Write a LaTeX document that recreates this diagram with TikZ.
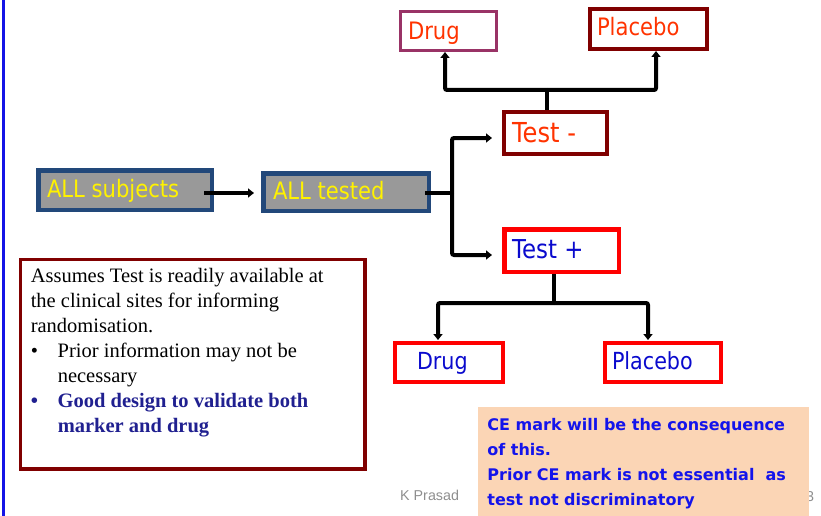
\documentclass[tikz,border=0pt]{standalone}
\usepackage{fontspec}
\setmainfont{Liberation Serif}
\newfontfamily\boxfont[FakeStretch=0.88]{DejaVu Sans}
\newfontfamily\cefont{DejaVu Sans}
\newfontfamily\slidefont{Liberation Sans}
\usetikzlibrary{arrows.meta,calc}

\definecolor{leftblue}{RGB}{20,20,230}
\definecolor{plum}{HTML}{993366}
\definecolor{maroon}{HTML}{800000}
\definecolor{orangered}{HTML}{FF3300}
\definecolor{slateblue}{RGB}{34,72,122}
\definecolor{midgrey}{HTML}{999999}
\definecolor{brightred}{HTML}{FF0000}
\definecolor{deepblue}{RGB}{10,10,205}
\definecolor{navytext}{RGB}{32,32,144}
\definecolor{peach}{HTML}{FBD5B5}
\definecolor{ceblue}{RGB}{20,20,235}
\definecolor{footgrey}{HTML}{8E8E8E}

\tikzset{
  cell/.style={draw, inner ysep=0pt, text depth=0pt, anchor=center, font=\boxfont},
  negbox/.style={cell, draw=maroon, text=orangered},
  posbox/.style={cell, draw=brightred, text=deepblue},
  allbox/.style={cell, draw=slateblue, fill=midgrey, text=yellow, line width=4.5pt},
  conn/.style={line width=4pt, rounded corners=2pt},
  tip/.style={-{Triangle[length=6pt,width=9pt]}},
  foot/.style={inner sep=0pt, anchor=base west, text=footgrey,
    font=\slidefont\fontsize{14.3pt}{17pt}\selectfont}
}

\begin{document}
\begin{tikzpicture}[x=1pt,y=-1pt]
\useasboundingbox (0,0) rectangle (821,516);

% left rule of the slide
\draw[line width=3pt, leftblue] (3.5,0) -- (3.5,516);

% boxes of the design
\node[cell, draw=plum, text=orangered, line width=3pt, minimum width=96pt, minimum height=39pt,
      inner xsep=7.5pt, text height=16.6pt, font=\boxfont\fontsize{24pt}{28pt}\selectfont]
      (dT) at (448.5,31) {\makebox[81pt][l]{Drug}};
\node[negbox, line width=4pt, minimum width=117pt, minimum height=40pt,
      inner xsep=7pt, text height=14pt, font=\boxfont\fontsize{24pt}{28pt}\selectfont]
      (pT) at (648.5,29) {\makebox[103pt][l]{Placebo}};
\node[negbox, line width=4pt, minimum width=103pt, minimum height=42pt,
      inner xsep=8pt, text height=19.4pt, font=\boxfont\fontsize{27.5pt}{32pt}\selectfont]
      (tm) at (555.5,133) {\makebox[87pt][l]{Test -}};
\node[allbox, minimum width=173.5pt, minimum height=39.5pt,
      inner xsep=8.75pt, text height=14.6pt, font=\boxfont\fontsize{24pt}{28pt}\selectfont]
      (as) at (125,190) {\makebox[156pt][l]{ALL subjects}};
\node[allbox, minimum width=165.5pt, minimum height=37.5pt,
      inner xsep=9.75pt, text height=14.6pt, font=\boxfont\fontsize{24pt}{28pt}\selectfont]
      (at) at (346,192) {\makebox[146pt][l]{ALL tested}};
\node[posbox, line width=4.5pt, minimum width=114.5pt, minimum height=42.5pt,
      inner xsep=7.75pt, text height=15.6pt, font=\boxfont\fontsize{26pt}{30pt}\selectfont]
      (tp) at (561.5,250.5) {\makebox[99pt][l]{Test +}};
\node[posbox, line width=4pt, minimum width=108pt, minimum height=39pt,
      inner xsep=22pt, text height=13pt, font=\boxfont\fontsize{23.5pt}{28pt}\selectfont]
      (dB) at (449,362.5) {\makebox[64pt][l]{Drug}};
\node[posbox, line width=4pt, minimum width=116pt, minimum height=39pt,
      inner xsep=7pt, text height=13pt, font=\boxfont\fontsize{23.5pt}{28pt}\selectfont]
      (pB) at (663,362.5) {\makebox[102pt][l]{Placebo}};

% connectors
\coordinate (a1) at ($(as.east)+(-10,3)$);
\draw[conn, tip, shorten >=7pt] (a1) -- (a1 -| at.west);

\coordinate (j3) at (452,193);
\draw[conn] ($(at.east)+(-6,1)$) -- (j3);
\draw[conn, tip] (j3) |- ($(tm.west)+(-10,5)$);
\draw[conn, tip] (j3) |- ($(tp.west)+(-10,4.5)$);

\coordinate (j1) at (547,90);
\draw[conn] (j1) -- (j1 |- tm.north);
\draw[conn, tip] (j1) -| ($(dT.south)+(-3.5,0)$);
\draw[conn, tip] (j1) -| ($(pT.south)+(7.5,0)$);

\coordinate (j2) at (554,303);
\draw[conn] (j2) -- (j2 |- tp.south);
\draw[conn, tip] (j2) -| ($(dB.north)+(-11,-1)$);
\draw[conn, tip] (j2) -| ($(pB.north)+(-15,-1)$);

% note on the left
\node[draw=maroon, line width=3.5pt, anchor=north west, inner xsep=10.25pt, inner ysep=0pt]
  (tb) at (18.75,257.75) {\parbox[c][209.5pt][t]{324pt}{%
    \fontsize{20.5pt}{25pt}\selectfont\raggedright
    \vspace*{9.25pt}%
    Assumes Test is readily available at\\
    the clinical sites for informing\\
    randomisation.\\
    \makebox[27pt][l]{\textbullet}Prior information may not be\\
    \hspace*{27pt}necessary\\
    {\color{navytext}\bfseries\makebox[27pt][l]{\textbullet}Good design to validate both\\
    \hspace*{27pt}marker and drug}}};

% footer
\node[foot] (author) at (400,500.5) {K Prasad};
\node[foot] (pageno) at (806,501) {3};

% CE remark
\node[fill=peach, anchor=north west, inner xsep=9.2pt, inner ysep=0pt]
  (ce) at (478,407) {\parbox[c][109pt][t]{312.6pt}{%
    \cefont\bfseries\color{ceblue}\fontsize{16pt}{25pt}\selectfont\raggedright
    \vspace*{10.8pt}%
    CE mark will be the consequence\\
    of this.\\
    Prior CE mark is not essential\ \ as\\
    test not discriminatory}};
\end{tikzpicture}
\end{document}
